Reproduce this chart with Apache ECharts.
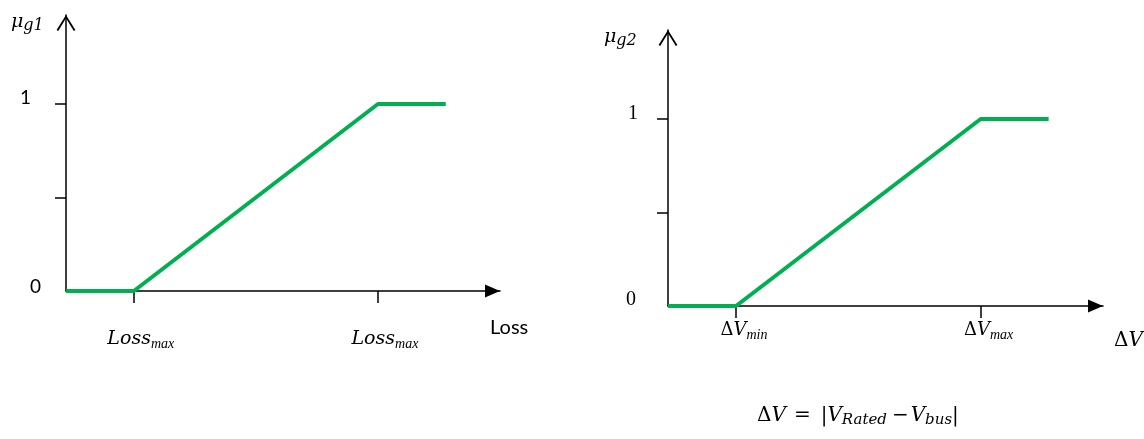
<!DOCTYPE html>
<html>
<head>
<meta charset="utf-8">
<script src="https://cdn.jsdelivr.net/npm/echarts@6/dist/echarts.min.js"></script>
<style>
html,body{margin:0;padding:0;background:#fff;}
#chart{width:1144px;height:439px;}
</style>
</head>
<body>
<div id="chart"></div>
<script>
// ---- data ----
const lossX = [0, 1, 4.6, 5.6];
const lossMu = [0, 0, 1, 1];
const dvX = [0, 1, 4.6, 5.6];
const dvMu = [0, 0, 1, 1];
const xTickValues = [1, 4.6];
const lossTickLabels = ['Loss', 'Loss'];
const lossTickSubs = ['max', 'max'];
const dvTickLabels = ['V', 'V'];
const dvTickSubs = ['min', 'max'];
const yTickValues = [0.5, 1];
const yLabelValues = [0, 1];

const GREEN = '#00b050';
const SERIF = '"Liberation Serif", "DejaVu Serif", serif';
const MATH = '"DejaVu Serif", "Liberation Serif", serif';
const SANS = 'Lato, "Liberation Sans", sans-serif';
const chevron = 'path://M0,16 L10,0 L20,16 L18.3,17 L10,3.4 L1.7,17 Z';

const chart = echarts.init(document.getElementById('chart'), null, {renderer: 'canvas'});

function xAxisCfg(gridIndex, labels, subs, delta) {
  return {
    type: 'value', gridIndex: gridIndex, min: 0, max: 6.4,
    axisLine: {show: true, onZero: false, lineStyle: {color: '#000', width: 1.5},
      symbol: ['none', 'triangle'], symbolSize: [13, 15], symbolOffset: [0, -7.5]},
    axisTick: {show: true, customValues: xTickValues, length: 12, inside: false,
      lineStyle: {color: '#000', width: 1.5}},
    axisLabel: {show: true, customValues: xTickValues, margin: delta ? 12 : 36,
      formatter: function (v) {
        const i = xTickValues.indexOf(v);
        return (delta ? '{d|Δ}{i|' : '{p|' ) + labels[i] + '}{s|' + subs[i] + '}';
      },
      rich: {
        d: {fontFamily: MATH, fontSize: 18, color: '#000', padding: [0, 0, 0, 16]},
        p: {fontFamily: MATH, fontStyle: 'italic', fontSize: 19, color: '#000', padding: [0, 0, 0, 14]},
        i: {fontFamily: MATH, fontStyle: 'italic', fontSize: 18, color: '#000'},
        s: {fontFamily: SERIF, fontStyle: 'italic', fontSize: 14, color: '#000', padding: [10, 0, 0, 0]}
      }
    },
    splitLine: {show: false}
  };
}

function yAxisCfg(gridIndex, serif) {
  return {
    type: 'value', gridIndex: gridIndex, min: 0, max: 1.476,
    axisLine: {show: true, onZero: false, lineStyle: {color: '#000', width: 1.5},
      symbol: ['none', chevron], symbolSize: [19, 16], symbolOffset: [0, -8]},
    axisTick: {show: true, customValues: yTickValues, length: 11, inside: false,
      lineStyle: {color: '#000', width: 1.5}},
    axisLabel: {show: true, customValues: yLabelValues, margin: serif ? 30 : 25,
      formatter: function (v) { return v === 0 ? '{z|0}' : '{o|1}'; },
      rich: serif ? {
        z: {fontFamily: SERIF, fontSize: 20, color: '#000', padding: [0, 2, 12, 0]},
        o: {fontFamily: SERIF, fontSize: 20, color: '#000', padding: [0, 0, 10, 0]}
      } : {
        z: {fontFamily: SANS, fontSize: 19, color: '#000', padding: [0, 0, 9, 0]},
        o: {fontFamily: SANS, fontSize: 19, color: '#000', padding: [0, 10, 12, 0]}
      }
    },
    splitLine: {show: false}
  };
}

function lineSeries(idx, xs, ys) {
  return {
    type: 'line', xAxisIndex: idx, yAxisIndex: idx,
    data: xs.map(function (x, i) { return [x, ys[i]]; }),
    symbol: 'none', lineStyle: {color: GREEN, width: 4}, z: 5, animation: false
  };
}

const muRich = {
  m: {fontFamily: MATH, fontStyle: 'italic', fontSize: 19, fill: '#000'},
  s: {fontFamily: MATH, fontStyle: 'italic', fontSize: 16, fill: '#000', padding: [7, 0, 0, 0]}
};

chart.setOption({
  animation: false,
  grid: [
    {left: 66, width: 434, top: 15, bottom: 148, containLabel: false},
    {left: 668, width: 435, top: 30, bottom: 133, containLabel: false}
  ],
  xAxis: [xAxisCfg(0, lossTickLabels, lossTickSubs, false), xAxisCfg(1, dvTickLabels, dvTickSubs, true)],
  yAxis: [yAxisCfg(0, false), yAxisCfg(1, true)],
  series: [lineSeries(0, lossX, lossMu), lineSeries(1, dvX, dvMu)],
  graphic: [
    {type: 'text', left: 11, top: 13, style: {text: '{m|μ}{s|g1}', rich: muRich}},
    {type: 'text', left: 604, top: 28, style: {text: '{m|μ}{s|g2}', rich: muRich}},
    {type: 'text', left: 490, top: 318, style: {text: 'Loss', fontFamily: SANS, fontSize: 20, fill: '#000'}},
    {type: 'text', left: 1114, top: 331, style: {
      text: '{n|Δ}{i|V}',
      rich: {
        n: {fontFamily: MATH, fontSize: 20, fill: '#000'},
        i: {fontFamily: MATH, fontStyle: 'italic', fontSize: 20, fill: '#000'}
      }}},
    {type: 'text', left: 757, top: 406, style: {
      text: '{n|Δ}{i|V}{e|=}{b||}{i|V}{s|Rated}{m|−}{v|V}{s|bus}{n||}',
      rich: {
        n: {fontFamily: MATH, fontSize: 20, fill: '#000'},
        e: {fontFamily: MATH, fontSize: 20, fill: '#000', padding: [0, 0, 0, 8]},
        b: {fontFamily: MATH, fontSize: 20, fill: '#000', padding: [0, 0, 0, 10]},
        m: {fontFamily: MATH, fontSize: 20, fill: '#000', padding: [0, 0, 0, 5]},
        i: {fontFamily: MATH, fontStyle: 'italic', fontSize: 20, fill: '#000'},
        v: {fontFamily: MATH, fontStyle: 'italic', fontSize: 20, fill: '#000', padding: [0, 0, 0, 2]},
        s: {fontFamily: MATH, fontStyle: 'italic', fontSize: 15, fill: '#000', padding: [9, 0, 0, 0]}
      }}}
  ]
});
</script>
</body>
</html>
